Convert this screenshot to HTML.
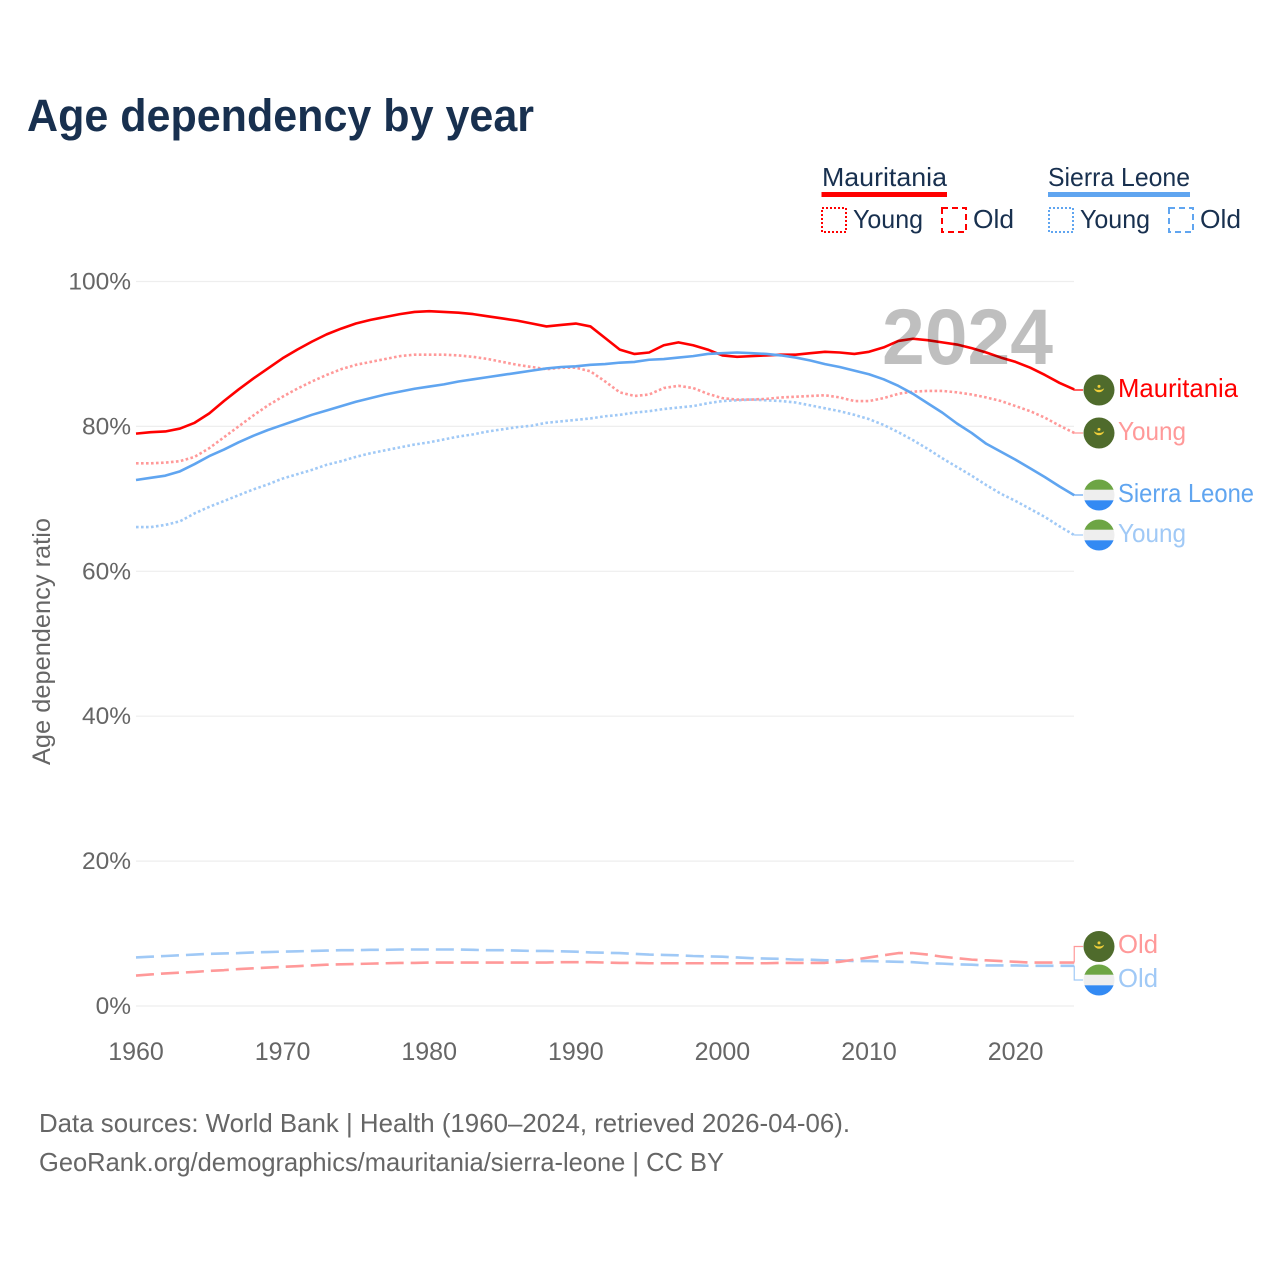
<!DOCTYPE html>
<html>
<head>
<meta charset="utf-8">
<title>Age dependency by year</title>
<style>
html,body{margin:0;padding:0;background:#fff;}
svg{display:block;}
text{font-family:"Liberation Sans",sans-serif;}
</style>
</head>
<body>
<svg id="chart" xmlns="http://www.w3.org/2000/svg" width="1280" height="1280" viewBox="0 0 1280 1280">
  <rect x="0" y="0" width="1280" height="1280" fill="#fff"/>
  <text x="27" y="131" font-size="45" font-weight="700" fill="#18304f" textLength="507" lengthAdjust="spacingAndGlyphs">Age dependency by year</text>

  <g>
    <text x="822" y="186" font-size="26" fill="#18304f" textLength="125" lengthAdjust="spacingAndGlyphs">Mauritania</text>
    <rect x="821.5" y="192" width="125.5" height="5" fill="#ff0000"/>
    <rect x="822" y="208" width="24" height="24" fill="none" stroke="#ff0000" stroke-width="2" stroke-dasharray="2,2"/>
    <text x="853" y="228" font-size="26" fill="#18304f" textLength="70" lengthAdjust="spacingAndGlyphs">Young</text>
    <rect x="942" y="208" width="24" height="24" fill="none" stroke="#ff0000" stroke-width="2" stroke-dasharray="6,4"/>
    <text x="973" y="228" font-size="26" fill="#18304f" textLength="41" lengthAdjust="spacingAndGlyphs">Old</text>

    <text x="1048" y="186" font-size="26" fill="#18304f" textLength="142" lengthAdjust="spacingAndGlyphs">Sierra Leone</text>
    <rect x="1048" y="192" width="142" height="5" fill="#60a5f0"/>
    <rect x="1049" y="208" width="24" height="24" fill="none" stroke="#60a5f0" stroke-width="2" stroke-dasharray="2,2"/>
    <text x="1080" y="228" font-size="26" fill="#18304f" textLength="70" lengthAdjust="spacingAndGlyphs">Young</text>
    <rect x="1169" y="208" width="24" height="24" fill="none" stroke="#60a5f0" stroke-width="2" stroke-dasharray="6,4"/>
    <text x="1200" y="228" font-size="26" fill="#18304f" textLength="41" lengthAdjust="spacingAndGlyphs">Old</text>
  </g>

  <text transform="translate(50,765) rotate(-90)" x="0" y="0" font-size="25" fill="#666" textLength="247" lengthAdjust="spacingAndGlyphs">Age dependency ratio</text>

  <g id="grid"></g>
  <g id="yticks"></g>
  <g id="xticks"></g>
  <g id="series"></g>

  <text x="882" y="364" font-size="79" font-weight="700" fill="#000" fill-opacity="0.25" textLength="171" lengthAdjust="spacingAndGlyphs">2024</text>

  <defs>
    <g id="flag-mr">
      <circle cx="0" cy="0" r="15.5" fill="#4f6b2c"/>
      <path d="M-5.2 -1.7 A5.4 5.4 0 0 0 5.2 -1.7 A6.6 4.2 0 0 1 -5.2 -1.7 Z" fill="#f0cf3a"/>
      <circle cx="0" cy="-3.6" r="1.5" fill="#f0cf3a"/>
    </g>
    <clipPath id="flag-clip"><circle cx="0" cy="0" r="15.5"/></clipPath>
    <g id="flag-sl" clip-path="url(#flag-clip)">
      <rect x="-16" y="-16" width="32" height="11" fill="#6da544"/>
      <rect x="-16" y="-5.3" width="32" height="10.6" fill="#eeeeee"/>
      <rect x="-16" y="5.3" width="32" height="11" fill="#338af3"/>
    </g>
  </defs>

  <use href="#flag-mr" x="1099" y="390"/>
  <use href="#flag-mr" x="1099" y="433"/>
  <use href="#flag-sl" x="1099" y="495"/>
  <use href="#flag-sl" x="1099" y="535"/>
  <use href="#flag-mr" x="1099" y="946.5"/>
  <use href="#flag-sl" x="1099" y="980"/>

  <text x="1118" y="397" font-size="26" fill="#ff0000" textLength="120" lengthAdjust="spacingAndGlyphs">Mauritania</text>
  <text x="1118" y="440" font-size="26" fill="#ff9999" textLength="68" lengthAdjust="spacingAndGlyphs">Young</text>
  <text x="1118" y="502" font-size="26" fill="#60a5f0" textLength="136" lengthAdjust="spacingAndGlyphs">Sierra Leone</text>
  <text x="1118" y="542" font-size="26" fill="#a0c9f6" textLength="68" lengthAdjust="spacingAndGlyphs">Young</text>
  <text x="1118" y="953" font-size="26" fill="#ff9999" textLength="40" lengthAdjust="spacingAndGlyphs">Old</text>
  <text x="1118" y="987" font-size="26" fill="#a0c9f6" textLength="40" lengthAdjust="spacingAndGlyphs">Old</text>

  <text x="39" y="1132" font-size="26" fill="#666" textLength="811" lengthAdjust="spacingAndGlyphs">Data sources: World Bank | Health (1960–2024, retrieved 2026-04-06).</text>
  <text x="39" y="1171" font-size="26" fill="#666" textLength="685" lengthAdjust="spacingAndGlyphs">GeoRank.org/demographics/mauritania/sierra-leone | CC BY</text>
</svg>
<script>
var startYear = 1960;
var xTickLabels = [1960, 1970, 1980, 1990, 2000, 2010, 2020];
var yTickLabels = [0, 20, 40, 60, 80, 100];

var mauritaniaTotal = [
  79.0,79.2,79.3,79.7,80.5,81.8,83.5,85.1,86.6,88.0,
  89.4,90.6,91.7,92.7,93.5,94.2,94.7,95.1,95.5,95.8,
  95.9,95.8,95.7,95.5,95.2,94.9,94.6,94.2,93.8,94.0,
  94.2,93.8,92.2,90.6,90.0,90.2,91.2,91.6,91.2,90.6,
  89.8,89.6,89.7,89.8,89.9,89.9,90.1,90.3,90.2,90.0,
  90.3,90.9,91.8,92.1,91.9,91.6,91.3,90.8,90.2,89.5,
  88.9,88.1,87.1,86.0,85.1
];
var mauritaniaYoung = [
  74.9,74.9,75.0,75.2,75.8,77.0,78.5,80.0,81.5,82.9,
  84.1,85.2,86.2,87.1,87.9,88.5,88.9,89.3,89.7,89.9,
  89.9,89.9,89.8,89.6,89.3,88.9,88.5,88.2,87.9,88.1,
  88.1,87.6,86.2,84.7,84.2,84.4,85.3,85.6,85.3,84.5,
  83.9,83.7,83.7,83.8,84.0,84.1,84.2,84.3,84.0,83.5,
  83.5,83.9,84.5,84.8,84.9,84.9,84.7,84.4,84.0,83.5,
  82.8,82.1,81.2,80.1,79.1
];
var mauritaniaOld = [
  4.2,4.35,4.5,4.6,4.7,4.85,4.95,5.1,5.2,5.3,
  5.4,5.5,5.6,5.7,5.75,5.8,5.85,5.9,5.95,5.95,
  6.0,6.0,6.0,6.0,6.0,6.0,6.0,6.0,6.0,6.05,
  6.05,6.05,6.0,5.95,5.95,5.9,5.9,5.9,5.9,5.9,
  5.9,5.9,5.9,5.9,5.95,5.95,5.95,5.95,6.1,6.4,
  6.7,7.0,7.3,7.3,7.1,6.8,6.6,6.4,6.3,6.2,
  6.1,6.0,6.0,6.0,6.0
];
var sierraLeoneTotal = [
  72.6,72.9,73.2,73.8,74.8,75.9,76.8,77.8,78.7,79.5,
  80.2,80.9,81.6,82.2,82.8,83.4,83.9,84.4,84.8,85.2,
  85.5,85.8,86.2,86.5,86.8,87.1,87.4,87.7,88.0,88.2,
  88.3,88.5,88.6,88.8,88.9,89.2,89.3,89.5,89.7,90.0,
  90.1,90.2,90.1,90.0,89.8,89.5,89.1,88.6,88.2,87.7,
  87.2,86.5,85.6,84.5,83.2,81.9,80.4,79.1,77.6,76.5,
  75.4,74.2,73.0,71.7,70.5
];
var sierraLeoneYoung = [
  66.1,66.1,66.4,66.9,68.0,68.9,69.7,70.5,71.3,72.0,
  72.8,73.4,74.0,74.7,75.2,75.8,76.3,76.7,77.1,77.5,
  77.8,78.2,78.6,78.9,79.3,79.6,79.9,80.1,80.5,80.7,
  80.9,81.1,81.4,81.6,81.9,82.1,82.4,82.6,82.8,83.2,
  83.5,83.6,83.7,83.6,83.5,83.3,82.9,82.5,82.1,81.6,
  81.0,80.2,79.2,78.1,76.9,75.6,74.4,73.2,71.9,70.7,
  69.7,68.6,67.5,66.2,65.0
];
var sierraLeoneOld = [
  6.7,6.8,6.9,7.0,7.1,7.2,7.25,7.3,7.4,7.45,
  7.5,7.55,7.6,7.65,7.7,7.7,7.75,7.75,7.8,7.8,
  7.8,7.8,7.8,7.75,7.7,7.7,7.65,7.6,7.6,7.55,
  7.5,7.4,7.35,7.3,7.2,7.1,7.05,7.0,6.9,6.85,
  6.8,6.7,6.6,6.55,6.5,6.4,6.4,6.3,6.3,6.2,
  6.2,6.15,6.1,6.05,5.9,5.85,5.75,5.7,5.6,5.6,
  5.6,5.55,5.55,5.55,5.55
];

var NS = 'http://www.w3.org/2000/svg';
function xScale(year) { return 136 + (year - 1960) * 14.66; }
function yScale(pct) { return 1006 - pct * 7.245; }

var grid = document.getElementById('grid');
var yticks = document.getElementById('yticks');
var xticks = document.getElementById('xticks');
var seriesGroup = document.getElementById('series');

yTickLabels.forEach(function (v) {
  var line = document.createElementNS(NS, 'line');
  
  
  line.setAttribute('x1', 136);
  line.setAttribute('x2', 1074);
  line.setAttribute('y1', yScale(v));
  line.setAttribute('y2', yScale(v));
  line.setAttribute('stroke', '#eeeeee');
  line.setAttribute('stroke-width', 1.2);
  grid.appendChild(line);
  var t = document.createElementNS(NS, 'text');
  
  
  t.setAttribute('x', 131);
  t.setAttribute('y', yScale(v) + 8);
  t.setAttribute('text-anchor', 'end');
  t.setAttribute('font-size', 24.5);
  t.setAttribute('fill', '#666');
  t.textContent = v + '%';
  yticks.appendChild(t);
});

xTickLabels.forEach(function (v) {
  var t = document.createElementNS(NS, 'text');
  
  
  t.setAttribute('x', xScale(v));
  t.setAttribute('y', 1060);
  t.setAttribute('text-anchor', 'middle');
  t.setAttribute('font-size', 25);
  t.setAttribute('fill', '#666');
  t.textContent = String(v);
  xticks.appendChild(t);
});

function drawSeries(name, values, color, width, dash, flagY) {
  var pts = values.map(function (v, i) {
    return xScale(startYear + i).toFixed(2) + ',' + yScale(v).toFixed(2);
  }).join(' ');
  var last = values.length - 1;
  var endX = xScale(startYear + last);
  var endY = yScale(values[last]);
  var conn = document.createElementNS(NS, 'path');
  
  
  conn.setAttribute('d', 'M' + endX + ' ' + endY + 'V' + flagY + 'H1083');
  conn.setAttribute('fill', 'none');
  conn.setAttribute('stroke', color);
  conn.setAttribute('stroke-width', 1.2);
  seriesGroup.appendChild(conn);
  var line = document.createElementNS(NS, 'polyline');
  
  
  line.setAttribute('points', pts);
  line.setAttribute('fill', 'none');
  line.setAttribute('stroke', color);
  line.setAttribute('stroke-width', width);
  line.setAttribute('stroke-linejoin', 'round');
  if (dash) { line.setAttribute('stroke-dasharray', dash); }
  seriesGroup.appendChild(line);
}

drawSeries('sierra-leone-old', sierraLeoneOld, '#a0c9f6', 2.6, '18,7', 980);
drawSeries('mauritania-old', mauritaniaOld, '#ff9999', 2.6, '18,7', 946.5);
drawSeries('sierra-leone-young', sierraLeoneYoung, '#a0c9f6', 2.6, '2.6,2.4', 535);
drawSeries('mauritania-young', mauritaniaYoung, '#ff9999', 2.6, '2.6,2.4', 433);
drawSeries('mauritania-total', mauritaniaTotal, '#ff0000', 2.6, null, 390);
drawSeries('sierra-leone-total', sierraLeoneTotal, '#60a5f0', 2.6, null, 495);
</script>
</body>
</html>
